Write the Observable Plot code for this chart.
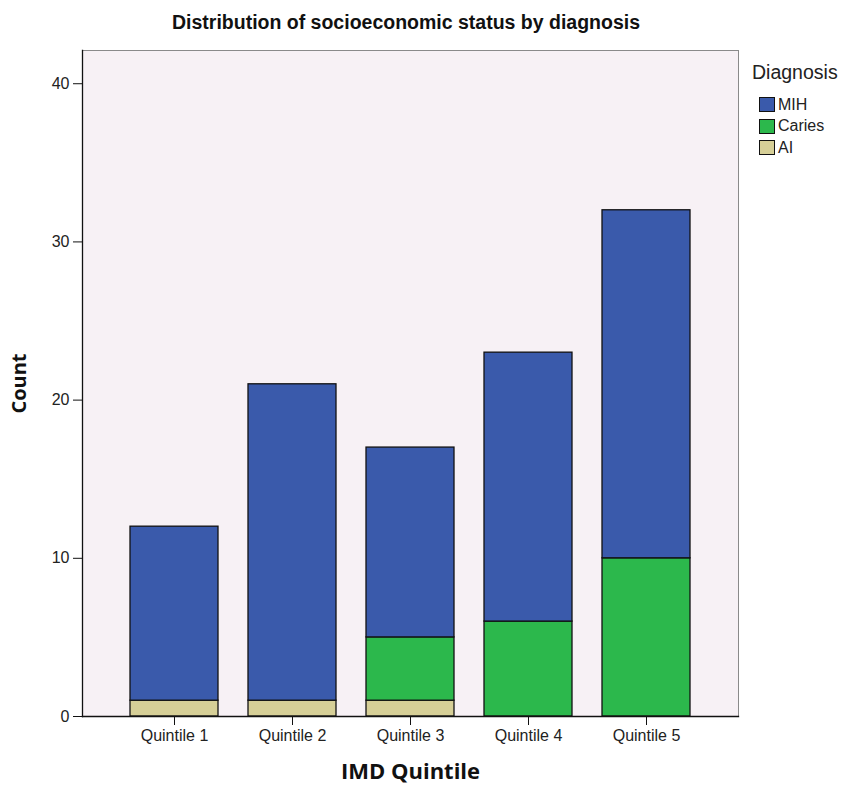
<!DOCTYPE html>
<html>
<head>
<meta charset="utf-8">
<script src="https://cdn.jsdelivr.net/npm/d3@7"></script>
<script src="https://cdn.jsdelivr.net/npm/@observablehq/plot@0.6"></script>
<style>
  body { margin: 0; background: #fff; font-family: Arial, "Liberation Sans", sans-serif; }
  #wrap { position: relative; width: 843px; height: 787px; }
  #title { position: absolute; left: 0; top: 11px; width: 812px; text-align: center; font-weight: bold; font-size: 19.5px; color: #111; }
  #chart { position: absolute; left: 0; top: 40px; }
  #legend { position: absolute; left: 752px; top: 61px; color: #222; }
  #legend .row { display: flex; align-items: center; font-size: 16px; height: 21.5px; margin-left: 7px; }
  #legend .sw { width: 16px; height: 15px; border: 1px solid #111; margin-right: 3px; box-sizing: border-box; }
  #legend .hd { font-size: 19.5px; margin-bottom: 10px; }
</style>
</head>
<body>
<div id="wrap">
  <div id="title">Distribution of socioeconomic status by diagnosis</div>
  <div id="chart"></div>
  <div id="legend"></div>
</div>
<script>
const quintiles = ["Quintile 1", "Quintile 2", "Quintile 3", "Quintile 4", "Quintile 5"];
const diagnoses = ["MIH", "Caries", "AI"];
const colors = ["#3a5aab", "#2cb84c", "#d6cf97"];
const mih = [11, 20, 12, 17, 22];
const caries = [0, 0, 4, 6, 10];
const ai = [1, 1, 1, 0, 0];
const yTicks = [0, 10, 20, 30, 40];

const seriesVals = {MIH: mih, Caries: caries, AI: ai};
// stacking order bottom → top: AI, Caries, MIH
const data = [];
for (const d of ["AI", "Caries", "MIH"]) {
  quintiles.forEach((q, i) => {
    if (seriesVals[d][i] > 0) data.push({quintile: q, diagnosis: d, count: seriesVals[d][i]});
  });
}

const plot = Plot.plot({
  width: 843,
  height: 747,
  marginTop: 10,
  marginLeft: 82,
  marginRight: 105,
  marginBottom: 71,
  style: {fontFamily: "Arial, 'Liberation Sans', sans-serif", fontSize: "16px", color: "#222", background: "#fff"},
  x: {domain: quintiles, paddingInner: 0.257, paddingOuter: 0.396, label: null},
  y: {domain: [0, 42.1], label: null},
  color: {domain: diagnoses, range: colors},
  marks: [
    Plot.frame({fill: "#f7f1f5", stroke: "#8a8a8a"}),
    Plot.barY(data, {x: "quintile", y: "count", fill: "diagnosis", stroke: "#111", strokeWidth: 1.3, order: null}),
    Plot.frame({anchor: "left", stroke: "#111", strokeWidth: 1.3}),
    Plot.frame({anchor: "bottom", stroke: "#111", strokeWidth: 1.3}),
    Plot.axisY({ticks: yTicks, tickSize: 9, tickPadding: 4, label: null, fontSize: 16, stroke: "#111"}),
    Plot.axisX({tickSize: 9, tickPadding: 4, label: null, fontSize: 16, stroke: "#111"}),
    Plot.text(["Count"], {frameAnchor: "left", textAnchor: "middle", dx: -63, rotate: -90, fontWeight: "bold", fontSize: 20, fill: "#111", fontFamily: "'Open Sans', Arial, sans-serif"}),
    Plot.text(["IMD Quintile"], {frameAnchor: "bottom", dy: 62, fontWeight: "bold", fontSize: 22, fill: "#111", fontFamily: "'Open Sans', Arial, sans-serif"})
  ]
});
document.getElementById("chart").appendChild(plot);

const leg = document.getElementById("legend");
const hd = document.createElement("div");
hd.className = "hd";
hd.textContent = "Diagnosis";
leg.appendChild(hd);
diagnoses.forEach((d, i) => {
  const row = document.createElement("div");
  row.className = "row";
  const sw = document.createElement("span");
  sw.className = "sw";
  sw.style.background = colors[i];
  const lb = document.createElement("span");
  lb.textContent = d;
  row.appendChild(sw);
  row.appendChild(lb);
  leg.appendChild(row);
});
</script>
</body>
</html>
